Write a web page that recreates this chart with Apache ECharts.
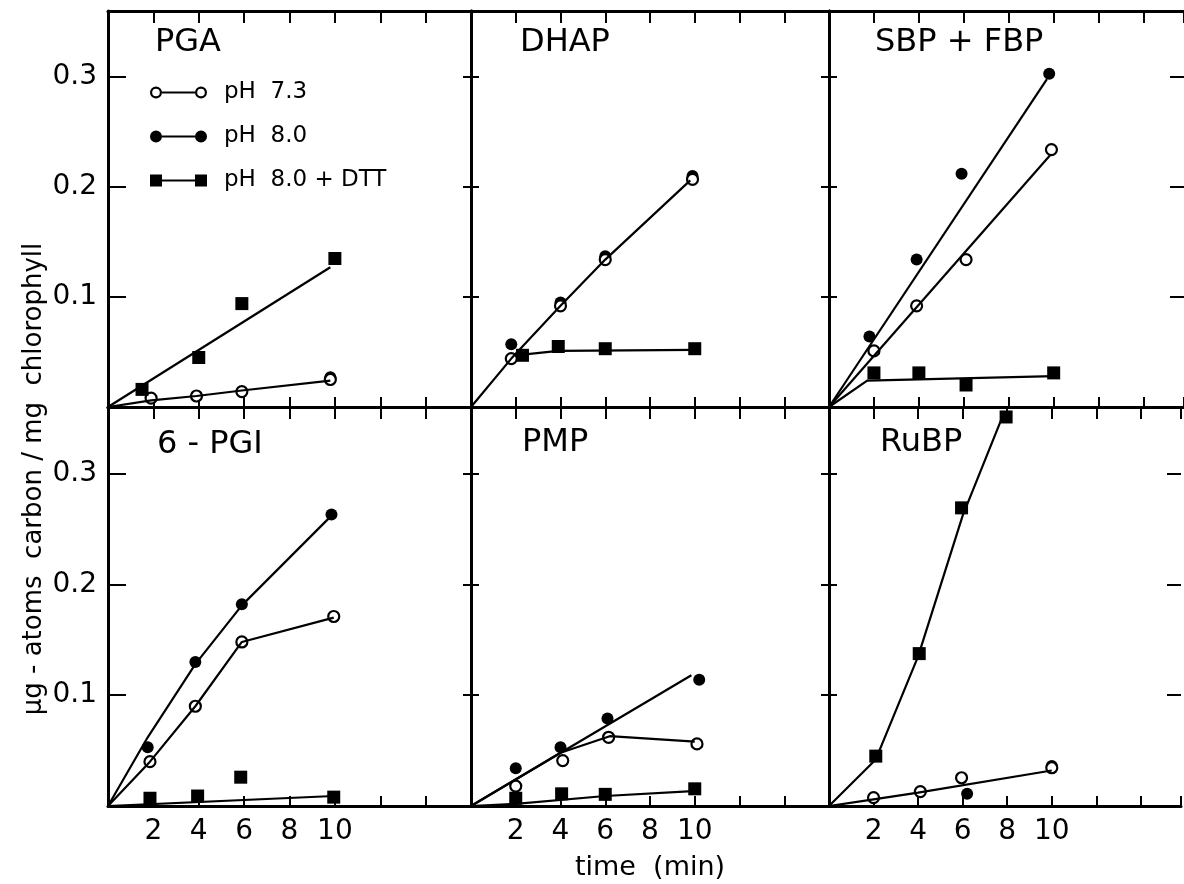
<!DOCTYPE html>
<html lang="en">
<head>
    <meta charset="UTF-8">
    <title>Photosynthetic intermediates</title>
    <style>
        * { margin: 0; padding: 0; }
        body { background: #fff; }
        #main { width: 1184px; height: 884px; }
    </style>
</head>
<body>
    <div id="main"></div>
</body>
</html>
<script src="https://cdn.jsdelivr.net/npm/echarts@6/dist/echarts.min.js"></script>
<script>
    // panel titles, left-to-right, top row then bottom row
    const panelNames = ['PGA', 'DHAP', 'SBP + FBP', '6 - PGI', 'PMP', 'RuBP'];
    const xTickLabels = [2, 4, 6, 8, 10];
    const yTickLabels = [0.1, 0.2, 0.3];

    // measured points [time, value] -- open = pH 7.3, filled = pH 8.0, square = pH 8.0 + DTT
    const pgaOpen = [[1.9, 0.008], [3.9, 0.010], [5.9, 0.014], [9.8, 0.025]];
    const pgaFilled = [[9.8, 0.027]];
    const pgaSquare = [[1.5, 0.016], [4.0, 0.045], [5.9, 0.094], [10.0, 0.135]];
    const dhapOpen = [[1.8, 0.044], [4.0, 0.092], [6.0, 0.134], [9.9, 0.207]];
    const dhapFilled = [[1.8, 0.057], [4.0, 0.095], [6.0, 0.137], [9.9, 0.210]];
    const dhapSquare = [[2.3, 0.047], [3.9, 0.055], [6.0, 0.053], [10.0, 0.053]];
    const sbpOpen = [[2.0, 0.051], [3.9, 0.092], [6.1, 0.134], [9.9, 0.234]];
    const sbpFilled = [[1.8, 0.064], [3.9, 0.134], [5.9, 0.212], [9.8, 0.303]];
    const sbpSquare = [[2.0, 0.031], [4.0, 0.031], [6.1, 0.020], [10.0, 0.031]];
    const pgiOpen = [[1.85, 0.040], [3.85, 0.090], [5.9, 0.148], [9.95, 0.171]];
    const pgiFilled = [[1.75, 0.053], [3.85, 0.130], [5.9, 0.182], [9.85, 0.263]];
    const pgiSquare = [[1.85, 0.007], [3.95, 0.009], [5.85, 0.026], [9.95, 0.008]];
    const pmpOpen = [[2.0, 0.018], [4.1, 0.041], [6.15, 0.062], [10.1, 0.056]];
    const pmpFilled = [[2.0, 0.034], [4.0, 0.053], [6.1, 0.079], [10.2, 0.114]];
    const pmpSquare = [[2.0, 0.007], [4.05, 0.011], [6.0, 0.0105], [10.0, 0.0155]];
    const rubpOpen = [[2.0, 0.0075], [4.1, 0.013], [5.95, 0.0255], [10.0, 0.0345]];
    const rubpFilled = [[6.2, 0.011], [10.0, 0.036]];
    const rubpSquare = [[2.1, 0.045], [4.05, 0.1375], [5.95, 0.269], [7.95, 0.351]];

    // hand-drawn curves
    const pgaOpenLine = [[0, 0], [1.9, 0.006], [3.9, 0.010], [5.9, 0.015], [9.8, 0.024]];
    const pgaSquareLine = [[0, 0], [9.8, 0.127]];
    const dhapOpenLine = [[0, 0], [1.8, 0.044], [4.0, 0.092], [6.0, 0.134], [9.8, 0.206]];
    const dhapSquareLine = [[2.0, 0.047], [3.9, 0.051], [10.0, 0.052]];
    const sbpFilledLine = [[0, 0], [9.7, 0.298]];
    const sbpOpenLine = [[0, 0], [9.85, 0.229]];
    const sbpSquareLine = [[0, 0], [1.7, 0.024], [10.0, 0.028]];
    const pgiFilledLine = [[0, 0], [1.75, 0.062], [3.85, 0.128], [5.9, 0.181], [9.85, 0.262]];
    const pgiOpenLine = [[0, 0], [1.85, 0.040], [3.85, 0.090], [5.9, 0.148], [9.95, 0.170]];
    const pgiSquareLine = [[0, 0], [9.95, 0.009]];
    const pmpFilledLine = [[0, 0], [9.85, 0.118]];
    const pmpOpenLine = [[0, 0], [4.0, 0.048], [6.2, 0.063], [10.0, 0.058]];
    const pmpSquareLine = [[0, 0], [2.0, 0.002], [6.0, 0.009], [9.9, 0.0135]];
    const rubpSquareLine = [[0, 0], [2.1, 0.042], [4.0, 0.135], [6.0, 0.262], [7.8, 0.352]];
    const rubpOpenLine = [[0, 0], [2.0, 0.006], [4.0, 0.012], [10.0, 0.032]];

    const panelPoints = [
        { open: pgaOpen, filled: pgaFilled, square: pgaSquare },
        { open: dhapOpen, filled: dhapFilled, square: dhapSquare },
        { open: sbpOpen, filled: sbpFilled, square: sbpSquare },
        { open: pgiOpen, filled: pgiFilled, square: pgiSquare },
        { open: pmpOpen, filled: pmpFilled, square: pmpSquare },
        { open: rubpOpen, filled: rubpFilled, square: rubpSquare }
    ];
    const panelLines = [
        [pgaOpenLine, pgaSquareLine],
        [dhapOpenLine, dhapSquareLine],
        [sbpFilledLine, sbpOpenLine, sbpSquareLine],
        [pgiFilledLine, pgiOpenLine, pgiSquareLine],
        [pmpFilledLine, pmpOpenLine, pmpSquareLine],
        [rubpSquareLine, rubpOpenLine]
    ];

    const FONT = 'DejaVu Sans';
    const NAME_OPEN = 'pH  7.3', NAME_FILLED = 'pH  8.0', NAME_SQUARE = 'pH  8.0 + DTT';

    // grid boxes (px); the right column is cut off by the page edge
    const colLeft = [108, 471, 829];
    const colWidth = [363, 358, 355];
    const colXMax = [16, 16, 15.8];
    const rowTop = [11, 407];
    const rowHeight = [396, 399];

    var grids = [], xAxes = [], yAxes = [], series = [], titles = [];
    const titlePos = [[150, 22], [515, 22], [870, 22], [152, 424], [517, 422], [875, 422]];

    for (let i = 0; i < 6; i++) {
        let col = i % 3, row = Math.floor(i / 3);
        grids.push({ left: colLeft[col], top: rowTop[row], width: colWidth[col], height: rowHeight[row] });

        let baseX = {
            type: 'value', gridIndex: i, min: 0, max: colXMax[col], interval: 2,
            axisLine: { show: true, onZero: false, lineStyle: { color: '#000', width: 3 } },
            axisTick: { show: true, inside: true, length: 10, lineStyle: { color: '#000', width: 2 } },
            splitLine: { show: false }
        };
        xAxes.push(Object.assign({}, baseX, {
            position: 'bottom',
            name: i === 4 ? 'time  (min)' : '',
            nameLocation: 'middle', nameGap: 48,
            nameTextStyle: { fontFamily: FONT, fontSize: 27, color: '#000' },
            axisLabel: {
                show: row === 1, margin: 12, color: '#000', fontFamily: FONT, fontSize: 28,
                formatter: v => xTickLabels.indexOf(v) >= 0 ? String(v) : ''
            }
        }));
        xAxes.push(Object.assign({}, baseX, {
            position: 'top', axisLabel: { show: false },
            axisTick: { show: true, inside: true, length: 12, lineStyle: { color: '#000', width: 2 } }
        }));

        let baseY = {
            type: 'value', gridIndex: i, min: 0, max: 0.36, interval: 0.1,
            axisLine: { show: true, onZero: false, lineStyle: { color: '#000', width: 3 } },
            splitLine: { show: false }
        };
        yAxes.push(Object.assign({}, baseY, {
            position: 'left',
            axisTick: { show: true, inside: true, length: col === 0 ? 18 : 8, lineStyle: { color: '#000', width: 2 } },
            axisLabel: {
                show: col === 0, margin: 11, color: '#000', fontFamily: FONT, fontSize: 28,
                formatter: v => {
                    let r = Math.round(v * 10) / 10;
                    return (Math.abs(r - v) < 1e-6 && yTickLabels.indexOf(r) >= 0) ? r.toFixed(1) : '';
                }
            }
        }));
        yAxes.push(Object.assign({}, baseY, {
            position: 'right',
            axisLine: { show: col !== 2, onZero: false, lineStyle: { color: '#000', width: 3 } },
            axisTick: { show: true, inside: true, length: col === 2 ? 14 : 8, lineStyle: { color: '#000', width: 2 } },
            axisLabel: { show: false }
        }));

        titles.push({
            text: panelNames[i], left: titlePos[i][0], top: titlePos[i][1],
            textStyle: { fontFamily: FONT, fontSize: 32, fontWeight: 'normal', color: '#000' }
        });

        panelLines[i].forEach((ln, k) => {
            series.push({
                type: 'line', name: 'curve' + i + '_' + k, data: ln,
                xAxisIndex: 2 * i, yAxisIndex: 2 * i,
                symbol: 'none', silent: true,
                lineStyle: { color: '#000', width: 2.2 }
            });
        });

        let p = panelPoints[i];
        series.push({
            type: 'scatter', name: NAME_FILLED, data: p.filled,
            xAxisIndex: 2 * i, yAxisIndex: 2 * i,
            symbol: 'circle', symbolSize: 12,
            itemStyle: { color: '#000', opacity: 1 }
        });
        series.push({
            type: 'scatter', name: NAME_OPEN, data: p.open,
            xAxisIndex: 2 * i, yAxisIndex: 2 * i,
            symbol: 'circle', symbolSize: 11,
            itemStyle: { color: '#fff', borderColor: '#000', borderWidth: 2.2, opacity: 1 }
        });
        series.push({
            type: 'scatter', name: NAME_SQUARE, data: p.square,
            xAxisIndex: 2 * i, yAxisIndex: 2 * i,
            symbol: 'rect', symbolSize: 13,
            itemStyle: { color: '#000', opacity: 1 }
        });
    }

    const iconOpen = 'path://M0,6 A6,6 0 1,1 12,6 A6,6 0 1,1 0,6 Z M2.2,6 A3.8,3.8 0 1,0 9.8,6 A3.8,3.8 0 1,0 2.2,6 Z M12,5 L45,5 L45,7 L12,7 Z M45,6 A6,6 0 1,1 57,6 A6,6 0 1,1 45,6 Z M47.2,6 A3.8,3.8 0 1,0 54.8,6 A3.8,3.8 0 1,0 47.2,6 Z';
    const iconFilled = 'path://M0,6 A6,6 0 1,1 12,6 A6,6 0 1,1 0,6 Z M12,5 L45,5 L45,7 L12,7 Z M45,6 A6,6 0 1,1 57,6 A6,6 0 1,1 45,6 Z';
    const iconSquare = 'path://M0,0 L12,0 L12,12 L0,12 Z M12,5 L45,5 L45,7 L12,7 Z M45,0 L57,0 L57,12 L45,12 Z';
    const legendItem = { color: '#000', borderWidth: 0, opacity: 1 };

    var myChart = echarts.init(document.getElementById('main'));
    myChart.setOption({
        backgroundColor: '#fff',
        animation: false,
        title: titles,
        legend: {
            orient: 'vertical', left: 145, top: 76,
            itemWidth: 57, itemHeight: 12, itemGap: 21,
            selectedMode: false,
            itemStyle: legendItem,
            textStyle: { fontFamily: FONT, fontSize: 23, color: '#000', padding: [0, 0, 0, 12] },
            data: [
                { name: NAME_OPEN, icon: iconOpen, itemStyle: legendItem },
                { name: NAME_FILLED, icon: iconFilled, itemStyle: legendItem },
                { name: NAME_SQUARE, icon: iconSquare, itemStyle: legendItem }
            ]
        },
        graphic: [{
            type: 'text', x: 34, y: 479, rotation: Math.PI / 2,
            style: {
                text: 'μg - atoms  carbon / mg  chlorophyll',
                font: '26px "DejaVu Sans"', fill: '#000',
                textAlign: 'center', textVerticalAlign: 'middle'
            }
        }],
        grid: grids,
        xAxis: xAxes,
        yAxis: yAxes,
        series: series
    });
</script>
